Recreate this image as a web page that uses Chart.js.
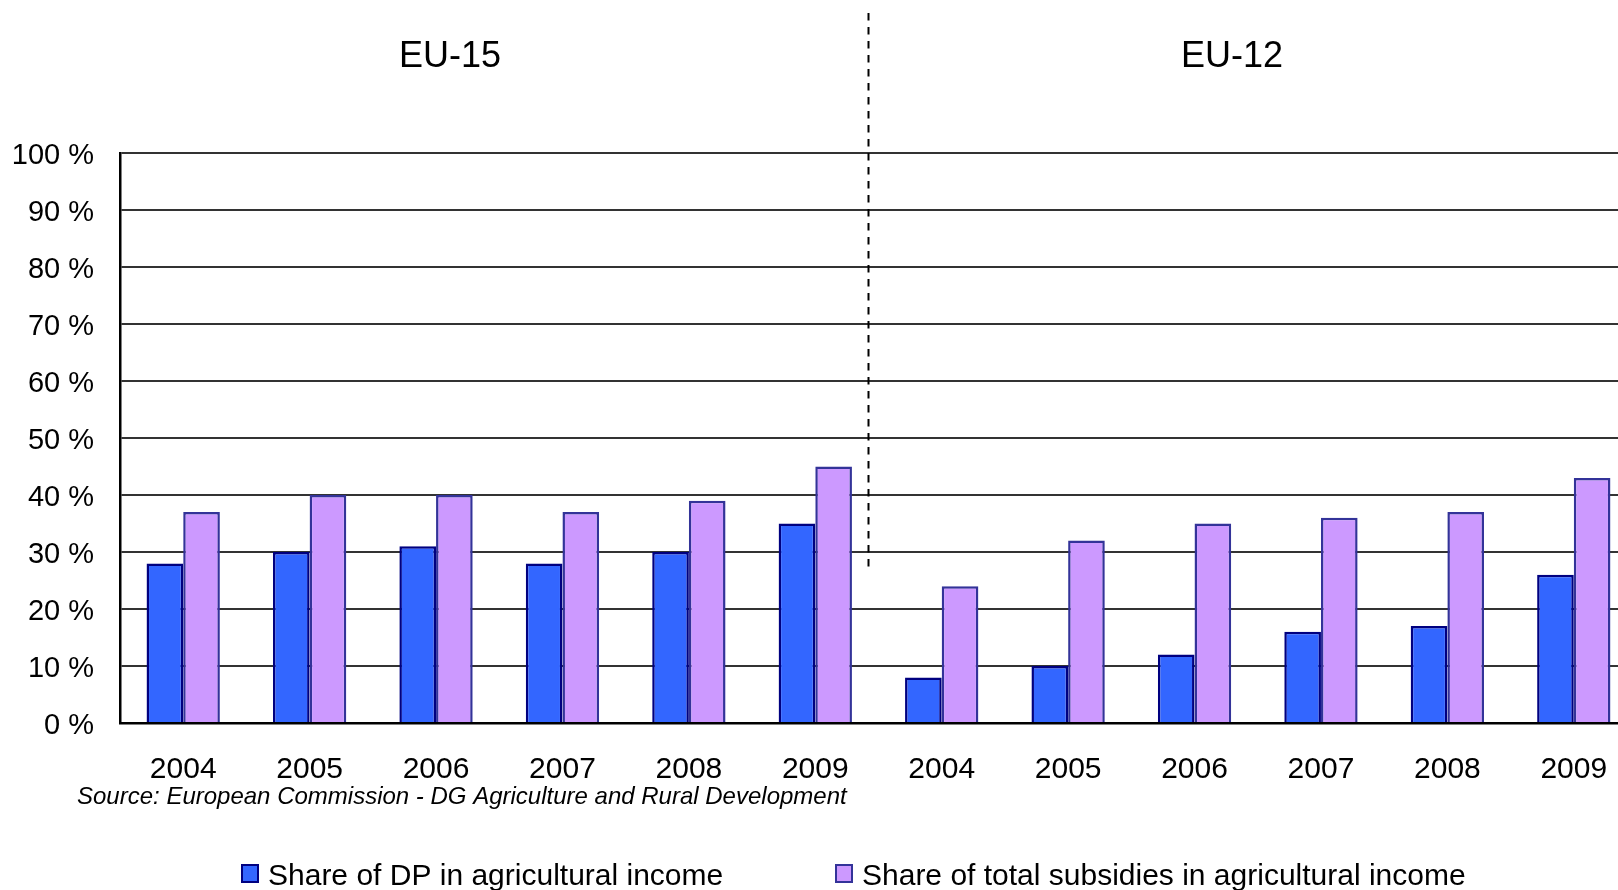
<!DOCTYPE html>
<html>
<head>
<meta charset="utf-8">
<script src="https://cdn.jsdelivr.net/npm/chart.js@4"></script>
<style>
  html, body { margin: 0; padding: 0; background: #fff; overflow: hidden; }
  #wrap { width: 1637px; height: 890px; }
</style>
</head>
<body>
<div id="wrap"><canvas id="chart" width="1637" height="890"></canvas></div>
<script>
// categories: EU-15 years then EU-12 years
const years = ['2004', '2005', '2006', '2007', '2008', '2009', '2004', '2005', '2006', '2007', '2008', '2009'];
const groupTitles = ['EU-15', 'EU-12'];
const dpShare = [28, 30, 31, 28, 30, 35, 8, 10, 12, 16, 17, 26];
const subsidyShare = [37, 40, 40, 37, 39, 45, 24, 32, 35, 36, 37, 43];
const seriesNames = ['Share of DP in agricultural income', 'Share of total subsidies in agricultural income'];
const sourceNote = 'Source: European Commission - DG Agriculture and Rural Development';

const FONT = '"Liberation Sans", Arial, sans-serif';

// titles, separator, source line and legend
const decorations = {
    id: 'decorations',
    afterDatasetsDraw(chart) {
        const c = chart.ctx;
        const x = chart.scales.x, y = chart.scales.y;
        c.save();

        // dashed separator between the two groups
        const sx = Math.round(x.getPixelForValue(5.42)) + 0.5;
        c.strokeStyle = '#000';
        c.lineWidth = 2;
        c.setLineDash([7.5, 6.5]);
        c.beginPath();
        c.moveTo(sx, 13);
        c.lineTo(sx, y.getPixelForValue(27.4));
        c.stroke();
        c.setLineDash([]);

        c.fillStyle = '#000';
        c.font = '36px ' + FONT;
        c.textAlign = 'center';
        c.textBaseline = 'alphabetic';
        c.fillText(groupTitles[0], 450, 67);
        c.fillText(groupTitles[1], 1232, 67);

        c.font = 'italic 24px ' + FONT;
        c.textAlign = 'left';
        c.fillText(sourceNote, 77, 804);

        // legend
        const ds = chart.data.datasets;
        const items = [{ box: 242, text: 268 }, { box: 836, text: 862 }];
        c.font = '30px ' + FONT;
        items.forEach((it, i) => {
            c.fillStyle = ds[i].backgroundColor;
            c.fillRect(it.box, 865, 16, 17);
            c.strokeStyle = ds[i].borderColor;
            c.lineWidth = 2;
            c.strokeRect(it.box, 865, 16, 17);
            c.fillStyle = '#000';
            c.fillText(seriesNames[i], it.text, 885);
        });
        c.restore();
    }
};

new Chart(document.getElementById('chart'), {
    type: 'bar',
    data: {
        labels: years,
        datasets: [{
            label: seriesNames[0],
            data: dpShare,
            backgroundColor: '#3366FF',
            borderColor: '#000080',
            borderWidth: 2.5,
            categoryPercentage: 0.58,
            barPercentage: 1.0
        }, {
            label: seriesNames[1],
            data: subsidyShare,
            backgroundColor: '#CC99FF',
            borderColor: '#333399',
            borderWidth: 2.5,
            categoryPercentage: 0.58,
            barPercentage: 1.0
        }]
    },
    options: {
        responsive: false,
        animation: false,
        devicePixelRatio: 1,
        layout: { padding: { top: 153, left: 0, right: 0, bottom: 0 } },
        plugins: {
            legend: { display: false },
            tooltip: { enabled: false },
            title: { display: false }
        },
        scales: {
            x: {
                grid: { display: false, drawTicks: false },
                border: { display: true, color: '#000', width: 2.5 },
                ticks: {
                    autoSkip: false,
                    maxRotation: 0,
                    padding: 29,
                    color: '#000',
                    font: { family: FONT, size: 30 }
                },
                afterFit(scale) { scale.height = 167; }
            },
            y: {
                min: 0,
                max: 100,
                grid: { color: '#333', lineWidth: 2, drawTicks: false },
                border: { display: true, color: '#000', width: 2.5 },
                ticks: {
                    stepSize: 10,
                    padding: 26,
                    labelOffset: 3,
                    color: '#000',
                    font: { family: FONT, size: 29 },
                    callback: v => v + ' %'
                },
                afterFit(scale) { scale.width = 120; }
            }
        }
    },
    plugins: [decorations]
});
</script>
</body>
</html>
